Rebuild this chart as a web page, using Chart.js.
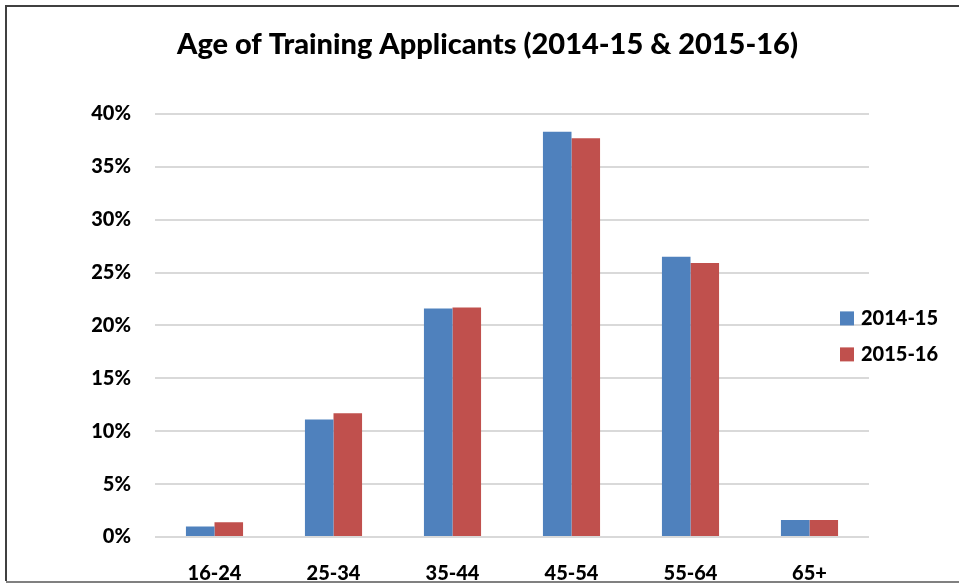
<!DOCTYPE html>
<html>
<head>
<meta charset="utf-8">
<script src="https://cdn.jsdelivr.net/npm/chart.js@4"></script>
<style>
  html, body { margin: 0; padding: 0; background: #fff; }
  #wrap { width: 959px; height: 585px; position: relative; }
</style>
</head>
<body>
<div id="wrap"><canvas id="chart"></canvas></div>
<script>
// data (percent of applicants)
const ageGroups = ['16-24', '25-34', '35-44', '45-54', '55-64', '65+'];
const seriesNames = ['2014-15', '2015-16'];
const values1415 = [1.0, 11.1, 21.6, 38.3, 26.5, 1.6];
const values1516 = [1.4, 11.7, 21.7, 37.7, 25.9, 1.6];
const yTicks = [0, 5, 10, 15, 20, 25, 30, 35, 40];

const BLUE = '#4F81BD';
const RED = '#C0504D';
const FONT = 'Lato, "Open Sans", sans-serif';

// frame round the picture (no right edge in the original)
const framePlugin = {
  id: 'frame',
  afterDraw(chart) {
    const ctx = chart.ctx;
    ctx.save();
    ctx.strokeStyle = '#404040';
    ctx.lineWidth = 2;
    ctx.beginPath();
    ctx.moveTo(959, 6);
    ctx.lineTo(6, 6);
    ctx.lineTo(6, 581);
    ctx.stroke();
    ctx.strokeStyle = '#808080';
    ctx.beginPath();
    ctx.moveTo(6, 582);
    ctx.lineTo(959, 582);
    ctx.stroke();
    ctx.restore();
  }
};

// legend on the right, sitting over the end of the grid
const legendPlugin = {
  id: 'sideLegend',
  afterDraw(chart) {
    const ctx = chart.ctx;
    const area = chart.chartArea;
    const midY = (area.top + area.bottom) / 2;
    ctx.save();
    ctx.font = '900 20px ' + FONT;
    ctx.textBaseline = 'middle';
    chart.data.datasets.forEach((ds, i) => {
      const y = midY - 7 + i * 36;
      ctx.fillStyle = ds.backgroundColor;
      ctx.fillRect(840, y - 7, 14, 14);
      ctx.fillStyle = '#000';
      ctx.fillText(ds.label, 861, y);
    });
    ctx.restore();
  }
};

new Chart(document.getElementById('chart'), {
  type: 'bar',
  data: {
    labels: ageGroups,
    datasets: [
      { label: seriesNames[0], data: values1415, backgroundColor: BLUE },
      { label: seriesNames[1], data: values1516, backgroundColor: RED }
    ]
  },
  options: {
    responsive: true,
    maintainAspectRatio: false,
    animation: false,
    layout: { padding: { left: 16, right: 0, top: 0, bottom: 0 } },
    datasets: {
      bar: { categoryPercentage: 0.48, barPercentage: 1.0 }
    },
    plugins: {
      legend: { display: false },
      tooltip: { enabled: false },
      title: {
        display: true,
        text: 'Age of Training Applicants (2014-15 & 2015-16)',
        color: '#000',
        font: { family: FONT, size: 29, weight: '900' },
        padding: { top: 27, bottom: 52 }
      }
    },
    scales: {
      x: {
        grid: { display: false, drawTicks: false },
        border: { display: false },
        ticks: {
          color: '#000',
          font: { family: FONT, size: 20, weight: '900' },
          padding: 25,
          maxRotation: 0
        },
        afterFit(scale) { scale.height = 48; }
      },
      y: {
        min: 0,
        max: 40,
        afterBuildTicks(scale) { scale.ticks = yTicks.map(v => ({ value: v })); },
        grid: { color: '#D9D9D9', lineWidth: 2, drawTicks: false },
        border: { display: false },
        ticks: {
          color: '#000',
          font: { family: FONT, size: 20, weight: '900' },
          padding: 24,
          callback: v => v + '%'
        },
        afterFit(scale) { scale.width = 139; }
      },
      // empty axis on the right that only reserves room for the legend
      yRight: {
        position: 'right',
        display: true,
        grid: { display: false, drawTicks: false },
        border: { display: false },
        ticks: { display: false },
        afterFit(scale) { scale.width = 90; }
      }
    }
  },
  plugins: [framePlugin, legendPlugin]
});
</script>
</body>
</html>
